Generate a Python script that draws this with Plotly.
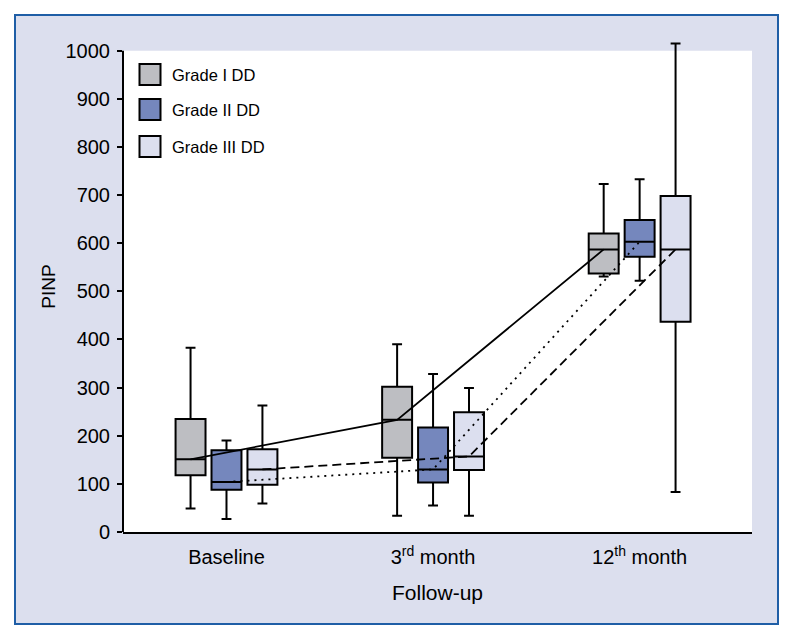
import plotly.graph_objects as go

# ---------------- data ----------------
timepoints = ["Baseline", "3<sup>rd</sup> month", "12<sup>th</sup> month"]
grades = ["Grade I DD", "Grade II DD", "Grade III DD"]

g1_lower = [49, 34, 531]
g1_q1 = [118, 154, 537]
g1_median = [151, 233, 587]
g1_q3 = [235, 302, 620]
g1_upper = [383, 390, 723]

g2_lower = [27, 55, 522]
g2_q1 = [88, 103, 572]
g2_median = [104, 130, 603]
g2_q3 = [170, 217, 648]
g2_upper = [190, 328, 733]

g3_lower = [59, 34, 83]
g3_q1 = [98, 129, 437]
g3_median = [130, 157, 587]
g3_q3 = [172, 249, 698]
g3_upper = [263, 299, 1015]

y_ticks = [0, 100, 200, 300, 400, 500, 600, 700, 800, 900, 1000]

# ---------------- styling ----------------
FONT = "Liberation Sans, Arial, sans-serif"
fills = ["#bdbec2", "#7587bd", "#dcdfef"]
dashes = ["solid", "2px,5px", "9px,5px"]
offsets = [-0.174, 0.0, 0.174]
BOX_W = 0.145

W, H = 794, 640
ML, MR, MT, MB = 123, 42, 41, 108
PW, PH = W - ML - MR, H - MT - MB


def px_x(px):
    return (px - ML) / PW


def px_y(py):
    return (H - MB - py) / PH


stats = [
    (g1_lower, g1_q1, g1_median, g1_q3, g1_upper),
    (g2_lower, g2_q1, g2_median, g2_q3, g2_upper),
    (g3_lower, g3_q1, g3_median, g3_q3, g3_upper),
]

fig = go.Figure()

for gi, (lo, q1, med, q3, up) in enumerate(stats):
    xs = [i + offsets[gi] for i in range(len(timepoints))]
    fig.add_trace(go.Box(
        x=xs, lowerfence=lo, q1=q1, median=med, q3=q3, upperfence=up,
        width=BOX_W, whiskerwidth=0.33, fillcolor=fills[gi],
        line=dict(color="black", width=2), boxpoints=False,
        name=grades[gi], showlegend=False,
    ))

for gi, (lo, q1, med, q3, up) in enumerate(stats):
    xs = [i + offsets[gi] for i in range(len(timepoints))]
    fig.add_trace(go.Scatter(
        x=xs, y=med, mode="lines",
        line=dict(color="black", width=1.8, dash=dashes[gi]),
        showlegend=False, hoverinfo="skip",
    ))

shapes = [
    # panel background with blue frame
    dict(type="rect", xref="paper", yref="paper",
         x0=px_x(15), x1=px_x(778), y0=px_y(624), y1=px_y(15),
         fillcolor="#dcdfee", line=dict(color="#1f5ea6", width=2), layer="below"),
    # white plotting area up to 1000
    dict(type="rect", xref="paper", yref="y",
         x0=0, x1=1, y0=0, y1=1000,
         fillcolor="white", line=dict(width=0), layer="below"),
    # y axis line (0..1000)
    dict(type="line", xref="paper", yref="y", x0=0, x1=0, y0=0, y1=1000,
         line=dict(color="black", width=2)),
]

annotations = []
sq_top = [64, 99, 136]
for gi, g in enumerate(grades):
    t = sq_top[gi]
    shapes.append(dict(type="rect", xref="paper", yref="paper",
                       x0=px_x(139.5), x1=px_x(160.5), y0=px_y(t + 21), y1=px_y(t),
                       fillcolor=fills[gi], line=dict(color="black", width=2)))
    annotations.append(dict(xref="paper", yref="paper", x=px_x(170), y=px_y(t + 11),
                            text=g, showarrow=False, xanchor="left", yanchor="middle",
                            font=dict(family=FONT, size=16.5, color="black")))

fig.update_layout(
    width=W, height=H,
    margin=dict(l=ML, r=MR, t=MT, b=MB, autoexpand=False),
    paper_bgcolor="white", plot_bgcolor="rgba(0,0,0,0)",
    font=dict(family=FONT, size=20, color="black"),
    shapes=shapes, annotations=annotations,
    xaxis=dict(range=[-0.501, 2.544], tickvals=list(range(len(timepoints))), ticktext=timepoints,
               showline=True, linecolor="black", linewidth=2, ticks="", showgrid=False,
               zeroline=False, automargin=False, ticklabelstandoff=6,
               title=dict(text="Follow-up", standoff=18, font=dict(size=21)),
               tickfont=dict(size=20)),
    yaxis=dict(range=[0, 1020], tickvals=y_ticks, showline=False, ticks="outside",
               ticklen=5, tickwidth=1.5, tickcolor="black", showgrid=False, zeroline=False,
               automargin=False, ticklabelstandoff=3,
               title=dict(text="PINP", standoff=4, font=dict(size=19)), tickfont=dict(size=20)),
)

fig.write_html("out.html", config={"displayModeBar": False},
               post_script="document.body.style.margin='0';")
